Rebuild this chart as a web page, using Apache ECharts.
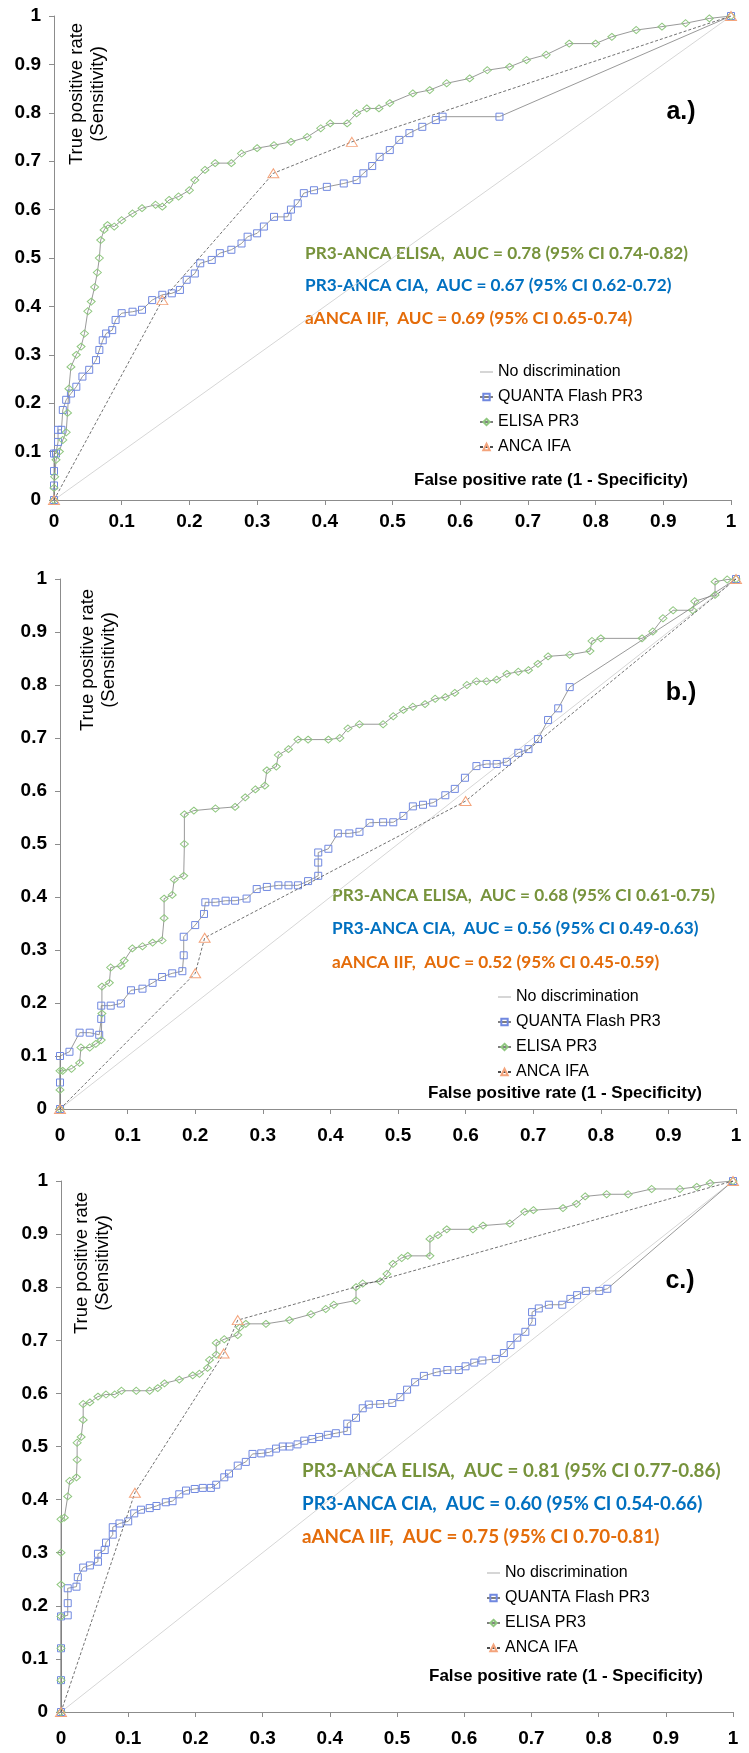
<!DOCTYPE html>
<html>
<head>
<meta charset="utf-8">
<script src="https://cdn.jsdelivr.net/npm/echarts@6/dist/echarts.min.js"></script>
<style>
  html, body { margin: 0; padding: 0; background: #fff; }
  #chart { width: 749px; height: 1753px; }
</style>
</head>
<body>
<div id="chart"></div>
<script>
// ---- data: [false positive rate, true positive rate] ----
const seriesNames = ['No discrimination', 'QUANTA Flash PR3', 'ELISA PR3', 'ANCA IFA']
const panelLabels = ['a.)', 'b.)', 'c.)']
const diagonal = [[0, 0], [1, 1]]

const aQuanta = [[0,0],[0,0.03],[0,0.06],[0,0.096],[0.003,0.096],[0.006,0.12],[0.006,0.145],[0.011,0.145],[0.013,0.186],[0.018,0.207],[0.025,0.22],[0.033,0.234],[0.042,0.255],[0.052,0.269],[0.062,0.289],[0.067,0.31],[0.072,0.33],[0.077,0.344],[0.086,0.351],[0.091,0.372],[0.1,0.386],[0.116,0.389],[0.13,0.393],[0.145,0.413],[0.16,0.424],[0.174,0.427],[0.186,0.434],[0.196,0.455],[0.208,0.468],[0.216,0.489],[0.233,0.496],[0.245,0.51],[0.262,0.517],[0.277,0.53],[0.286,0.544],[0.3,0.551],[0.31,0.565],[0.325,0.585],[0.345,0.585],[0.35,0.6],[0.36,0.613],[0.369,0.634],[0.384,0.64],[0.403,0.647],[0.428,0.654],[0.447,0.661],[0.457,0.675],[0.47,0.69],[0.481,0.709],[0.496,0.723],[0.51,0.744],[0.525,0.758],[0.544,0.771],[0.564,0.785],[0.574,0.792],[0.658,0.792],[1,1]]
const aElisa = [[0,0],[0,0.025],[0.001,0.048],[0.003,0.083],[0.008,0.1],[0.013,0.124],[0.018,0.14],[0.02,0.18],[0.022,0.23],[0.025,0.275],[0.033,0.3],[0.04,0.317],[0.045,0.344],[0.05,0.39],[0.055,0.41],[0.06,0.44],[0.064,0.47],[0.067,0.5],[0.069,0.537],[0.074,0.558],[0.079,0.568],[0.089,0.565],[0.1,0.578],[0.116,0.592],[0.13,0.603],[0.15,0.61],[0.16,0.606],[0.17,0.62],[0.184,0.627],[0.2,0.64],[0.208,0.661],[0.223,0.682],[0.238,0.696],[0.262,0.696],[0.277,0.716],[0.3,0.727],[0.325,0.733],[0.35,0.74],[0.374,0.75],[0.394,0.768],[0.408,0.778],[0.433,0.778],[0.447,0.799],[0.462,0.809],[0.48,0.809],[0.496,0.82],[0.53,0.84],[0.555,0.847],[0.58,0.861],[0.614,0.871],[0.64,0.888],[0.673,0.895],[0.698,0.909],[0.727,0.92],[0.761,0.943],[0.8,0.943],[0.824,0.957],[0.86,0.971],[0.898,0.978],[0.933,0.985],[0.968,0.995],[1,1]]
const aAnca = [[0,0],[0.16,0.413],[0.324,0.675],[0.44,0.74],[1,1]]

const bQuanta = [[0,0],[0,0.05],[0,0.1],[0.014,0.108],[0.029,0.144],[0.044,0.144],[0.058,0.14],[0.061,0.17],[0.061,0.195],[0.075,0.195],[0.09,0.199],[0.105,0.224],[0.122,0.227],[0.137,0.238],[0.151,0.249],[0.166,0.256],[0.181,0.26],[0.183,0.29],[0.183,0.325],[0.2,0.347],[0.213,0.368],[0.215,0.39],[0.23,0.39],[0.245,0.393],[0.259,0.393],[0.276,0.397],[0.291,0.415],[0.306,0.419],[0.323,0.422],[0.338,0.422],[0.352,0.422],[0.367,0.43],[0.382,0.44],[0.382,0.465],[0.382,0.484],[0.397,0.491],[0.411,0.52],[0.428,0.52],[0.443,0.523],[0.458,0.54],[0.478,0.541],[0.493,0.541],[0.508,0.553],[0.522,0.571],[0.537,0.574],[0.552,0.578],[0.57,0.592],[0.584,0.604],[0.599,0.625],[0.616,0.647],[0.631,0.651],[0.646,0.651],[0.661,0.655],[0.678,0.672],[0.693,0.679],[0.707,0.698],[0.722,0.734],[0.737,0.756],[0.754,0.796],[1,1]]
const bElisa = [[0,0],[0,0.036],[0,0.072],[0.004,0.072],[0.017,0.076],[0.029,0.087],[0.031,0.116],[0.044,0.116],[0.053,0.123],[0.061,0.13],[0.062,0.18],[0.062,0.231],[0.073,0.238],[0.075,0.267],[0.09,0.27],[0.095,0.28],[0.107,0.303],[0.122,0.307],[0.137,0.314],[0.151,0.318],[0.154,0.36],[0.154,0.397],[0.166,0.404],[0.169,0.433],[0.183,0.44],[0.184,0.5],[0.184,0.556],[0.198,0.563],[0.23,0.567],[0.259,0.57],[0.274,0.588],[0.289,0.603],[0.303,0.61],[0.306,0.639],[0.32,0.646],[0.323,0.668],[0.338,0.679],[0.352,0.697],[0.367,0.697],[0.397,0.697],[0.414,0.7],[0.426,0.718],[0.443,0.726],[0.478,0.726],[0.493,0.741],[0.508,0.753],[0.522,0.759],[0.54,0.764],[0.555,0.774],[0.57,0.777],[0.584,0.785],[0.602,0.8],[0.616,0.807],[0.631,0.807],[0.646,0.81],[0.661,0.821],[0.678,0.825],[0.693,0.828],[0.707,0.84],[0.722,0.854],[0.754,0.857],[0.784,0.864],[0.787,0.883],[0.8,0.888],[0.861,0.888],[0.877,0.901],[0.892,0.926],[0.907,0.941],[0.936,0.941],[0.939,0.958],[0.969,0.97],[0.969,0.995],[0.987,0.999],[1,1]]
const bAnca = [[0,0],[0.2,0.256],[0.214,0.323],[0.6,0.581],[1,1]]

const cQuanta = [[0,0],[0,0.06],[0,0.12],[0,0.18],[0.01,0.182],[0.01,0.205],[0.01,0.233],[0.023,0.236],[0.025,0.254],[0.033,0.272],[0.043,0.276],[0.055,0.283],[0.055,0.298],[0.065,0.305],[0.067,0.319],[0.077,0.334],[0.077,0.348],[0.087,0.355],[0.1,0.359],[0.109,0.374],[0.119,0.381],[0.132,0.384],[0.142,0.388],[0.156,0.395],[0.166,0.397],[0.176,0.41],[0.186,0.417],[0.199,0.42],[0.211,0.422],[0.223,0.422],[0.231,0.428],[0.243,0.442],[0.25,0.449],[0.263,0.464],[0.275,0.471],[0.285,0.486],[0.298,0.487],[0.31,0.489],[0.32,0.496],[0.33,0.5],[0.34,0.5],[0.352,0.504],[0.362,0.511],[0.374,0.514],[0.384,0.518],[0.397,0.522],[0.409,0.525],[0.426,0.529],[0.426,0.543],[0.439,0.554],[0.449,0.572],[0.458,0.579],[0.475,0.58],[0.493,0.582],[0.505,0.593],[0.515,0.607],[0.527,0.621],[0.54,0.633],[0.559,0.64],[0.575,0.644],[0.592,0.644],[0.602,0.651],[0.615,0.658],[0.627,0.662],[0.647,0.665],[0.659,0.676],[0.669,0.691],[0.679,0.705],[0.691,0.716],[0.701,0.735],[0.701,0.753],[0.711,0.76],[0.726,0.767],[0.746,0.767],[0.758,0.778],[0.768,0.785],[0.781,0.793],[0.801,0.793],[0.813,0.797],[1,1]]
const cElisa = [[0,0],[0,0.06],[0,0.12],[0,0.18],[0,0.24],[0,0.3],[0,0.363],[0.005,0.366],[0.01,0.406],[0.013,0.435],[0.023,0.442],[0.024,0.475],[0.024,0.507],[0.03,0.518],[0.033,0.55],[0.033,0.58],[0.043,0.583],[0.055,0.594],[0.067,0.598],[0.08,0.598],[0.09,0.605],[0.112,0.605],[0.132,0.605],[0.144,0.61],[0.154,0.619],[0.176,0.626],[0.196,0.634],[0.206,0.637],[0.218,0.648],[0.221,0.663],[0.231,0.673],[0.231,0.695],[0.243,0.702],[0.263,0.71],[0.266,0.724],[0.275,0.731],[0.305,0.731],[0.34,0.738],[0.372,0.749],[0.394,0.759],[0.406,0.767],[0.439,0.775],[0.439,0.8],[0.449,0.807],[0.475,0.811],[0.485,0.825],[0.494,0.844],[0.507,0.855],[0.516,0.859],[0.549,0.859],[0.549,0.891],[0.561,0.898],[0.574,0.909],[0.613,0.909],[0.628,0.916],[0.668,0.92],[0.69,0.942],[0.703,0.945],[0.747,0.949],[0.767,0.957],[0.78,0.971],[0.812,0.975],[0.844,0.975],[0.879,0.985],[0.921,0.985],[0.946,0.989],[0.966,0.996],[1,1]]
const cAnca = [[0,0],[0.11,0.413],[0.242,0.675],[0.263,0.738],[1,1]]

const aucTexts = [
  ['PR3-ANCA ELISA,  AUC = 0.78 (95% CI 0.74-0.82)', 'PR3-ANCA CIA,  AUC = 0.67 (95% CI 0.62-0.72)', 'aANCA IIF,  AUC = 0.69 (95% CI 0.65-0.74)'],
  ['PR3-ANCA ELISA,  AUC = 0.68 (95% CI 0.61-0.75)', 'PR3-ANCA CIA,  AUC = 0.56 (95% CI 0.49-0.63)', 'aANCA IIF,  AUC = 0.52 (95% CI 0.45-0.59)'],
  ['PR3-ANCA ELISA,  AUC = 0.81 (95% CI 0.77-0.86)', 'PR3-ANCA CIA,  AUC = 0.60 (95% CI 0.54-0.66)', 'aANCA IIF,  AUC = 0.75 (95% CI 0.70-0.81)']
]

const panelData = [
  { quanta: aQuanta, elisa: aElisa, anca: aAnca },
  { quanta: bQuanta, elisa: bElisa, anca: bAnca },
  { quanta: cQuanta, elisa: cElisa, anca: cAnca }
]

// ---- layout (pixels) ----
const layout = [
  { grid: { left: 54, top: 16, width: 677, height: 484 }, labelMargin: 12, aucX: 305, aucY: [253, 285, 318], aucSize: 17.2,
    tag: [681, 112], yName: [87, 94], legend: [474, 359], xName: [551, 480] },
  { grid: { left: 60, top: 579, width: 676, height: 530 }, labelMargin: 17, aucX: 332, aucY: [895, 928, 962], aucSize: 17.2,
    tag: [681, 693], yName: [98, 660], legend: [492, 984], xName: [565, 1093] },
  { grid: { left: 61, top: 1181, width: 672, height: 531 }, labelMargin: 17, aucX: 302, aucY: [1471, 1504, 1537], aucSize: 18.8,
    tag: [680, 1281], yName: [92, 1263], legend: [481, 1560], xName: [566, 1676] }
]

const aucColors = ['#77933C', '#0070C0', '#E46C0A']
const axisColor = '#8c8c8c'
const quantaColor = '#7088e0'
const elisaColor = '#8fc77f'
const ancaColor = '#f4a47c'

const chart = echarts.init(document.getElementById('chart'), null, { renderer: 'canvas' })

const grid = []
const xAxis = []
const yAxis = []
const series = []
const legend = []
const graphic = []

const _axis = {
  type: 'value',
  min: 0,
  max: 1,
  interval: 0.1,
  splitLine: { show: false },
  axisLine: { show: true, lineStyle: { color: axisColor, width: 1 } },
  axisTick: { show: true, inside: false, length: 5, lineStyle: { color: axisColor } },
  axisLabel: { color: '#000', fontWeight: 'bold', fontSize: 19, fontFamily: 'Liberation Sans, Arial' }
}

layout.forEach((l, i) => {
  grid.push({ ...l.grid, containLabel: false })
  xAxis.push({ ..._axis, gridIndex: i, axisLabel: { ..._axis.axisLabel, margin: l.labelMargin } })
  yAxis.push({ ..._axis, gridIndex: i, axisLabel: { ..._axis.axisLabel, margin: 13 } })

  const d = panelData[i]
  // no discrimination
  series.push({
    name: seriesNames[0], type: 'line', xAxisIndex: i, yAxisIndex: i,
    data: diagonal, symbol: 'none', z: 1,
    lineStyle: { color: '#d6d6d6', width: 1 },
    itemStyle: { color: 'rgba(255,255,255,0)' }
  })
  // QUANTA Flash PR3
  series.push({
    name: seriesNames[1], type: 'line', xAxisIndex: i, yAxisIndex: i,
    data: d.quanta, symbol: 'rect', symbolSize: 7, z: 3,
    lineStyle: { color: '#7f7f7f', width: 0.8 },
    itemStyle: { color: 'rgba(255,255,255,0)', borderColor: quantaColor, borderWidth: 1 }
  })
  // ELISA PR3
  series.push({
    name: seriesNames[2], type: 'line', xAxisIndex: i, yAxisIndex: i,
    data: d.elisa, symbol: 'diamond', symbolSize: [8, 7], z: 3,
    lineStyle: { color: '#7f7f7f', width: 0.8 },
    itemStyle: { color: 'rgba(255,255,255,0)', borderColor: elisaColor, borderWidth: 1 }
  })
  // ANCA IFA
  series.push({
    name: seriesNames[3], type: 'line', xAxisIndex: i, yAxisIndex: i,
    data: d.anca, symbol: 'triangle', symbolSize: [11, 9], z: 4,
    lineStyle: { color: '#4d4d4d', width: 0.8, type: [3, 2] },
    itemStyle: { color: 'rgba(255,255,255,0)', borderColor: ancaColor, borderWidth: 1 }
  })

  legend.push({
    orient: 'vertical',
    left: l.legend[0],
    top: l.legend[1],
    itemWidth: 13,
    itemHeight: 8,
    itemGap: 9,
    data: seriesNames,
    textStyle: { fontSize: 16, color: '#000', fontFamily: 'Liberation Sans, Arial', lineHeight: 16 }
  })

  // AUC texts
  aucTexts[i].forEach((t, k) => {
    graphic.push({
      type: 'text', x: l.aucX, y: l.aucY[k],
      style: { text: t, fill: aucColors[k], font: 'bold ' + l.aucSize + 'px Lato, "Open Sans", sans-serif', verticalAlign: 'middle' }
    })
  })
  // panel tag
  graphic.push({
    type: 'text', x: l.tag[0], y: l.tag[1],
    style: { text: panelLabels[i], fill: '#000', font: 'bold 25px "Liberation Sans", Arial', align: 'center', verticalAlign: 'middle' }
  })
  // y axis title
  graphic.push({
    type: 'text', x: l.yName[0], y: l.yName[1], rotation: Math.PI / 2,
    style: { text: 'True positive rate\n(Sensitivity)', fill: '#000', font: '18.5px "Liberation Sans", Arial', align: 'center', verticalAlign: 'middle', lineHeight: 21 }
  })
  // x axis title
  graphic.push({
    type: 'text', x: l.xName[0], y: l.xName[1],
    style: { text: 'False positive rate (1 - Specificity)', fill: '#000', font: 'bold 17px "Liberation Sans", Arial', align: 'center', verticalAlign: 'middle' }
  })
})

chart.setOption({
  animation: false,
  backgroundColor: '#fff',
  grid,
  xAxis,
  yAxis,
  legend,
  graphic,
  series
})
</script>
</body>
</html>
